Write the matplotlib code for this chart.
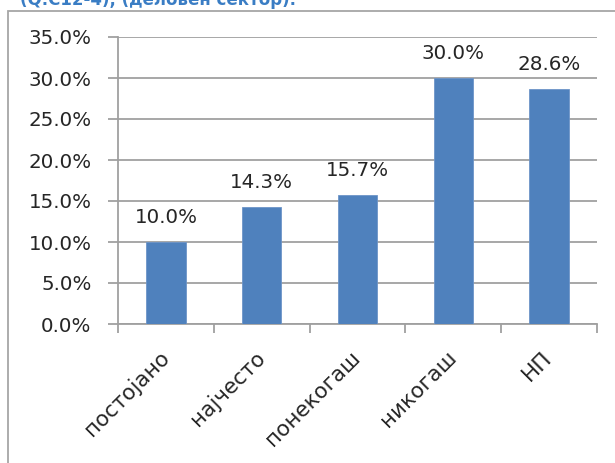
import matplotlib
matplotlib.use("Agg")
import matplotlib.pyplot as plt
from matplotlib.patches import Rectangle

categories = ["постојано", "најчесто", "понекогаш", "никогаш", "НП"]
values = [10.0, 14.3, 15.7, 30.0, 28.6]
yticks = [0, 5, 10, 15, 20, 25, 30, 35]
title = "(Q.C12-4), (деловен сектор)."

W, H = 615, 463
fig = plt.figure(figsize=(W / 100, H / 100), dpi=100)
plt.rcParams['font.family'] = ['DejaVu Sans']

# outer frame
fig.patches.append(Rectangle((8 / W, -0.1), 1.2, 1 - 11 / H + 0.1, transform=fig.transFigure,
                             fill=False, edgecolor="#a6a6a6", linewidth=1.3))
fig.text(20 / W, 1 - 5 / H, title, color="#3a7dc4", fontsize=12, fontweight="bold",
         ha="left", va="baseline")

ax = fig.add_axes([118 / W, 1 - 324 / H, (597 - 118) / W, (324 - 37) / H])
x = range(len(categories))
ax.bar(x, values, width=0.41, color="#4f81bd", edgecolor="#6d95c8", linewidth=0.6, zorder=3)
ax.set_xlim(-0.5, len(categories) - 0.5)
ax.set_ylim(0, 35)
ax.set_yticks(yticks)
ax.set_yticklabels([f"{v:.1f}%" for v in yticks], fontsize=14.3, color="#262626")
ax.yaxis.grid(True, color="#a0a0a0", linewidth=1.3, zorder=0)
ax.set_axisbelow(True)

# x ticks at category boundaries
ax.set_xticks([i - 0.5 for i in range(len(categories) + 1)])
ax.set_xticklabels([])
ax.set_xticks(list(x), minor=True)
ax.set_xticklabels(categories, minor=True, rotation=45, ha="right", va="center",
                   rotation_mode="anchor", fontsize=15.5, color="#262626")
ax.tick_params(axis="x", which="minor", length=0, pad=22)
ax.tick_params(axis="x", which="major", length=6.5, width=1.3, color="#a0a0a0", direction="out")
ax.tick_params(axis="y", length=7, width=1.3, color="#a0a0a0", pad=12)

for s in ["top", "right"]:
    ax.spines[s].set_visible(False)
for s in ["left", "bottom"]:
    ax.spines[s].set_color("#a0a0a0")
    ax.spines[s].set_linewidth(1.3)

for i, v in enumerate(values):
    ax.annotate(f"{v:.1f}%", (i, v), xytext=(0, 15), textcoords="offset pixels",
                ha="center", va="bottom", fontsize=14.3, color="#262626")

fig.savefig("out.png", dpi=100)
